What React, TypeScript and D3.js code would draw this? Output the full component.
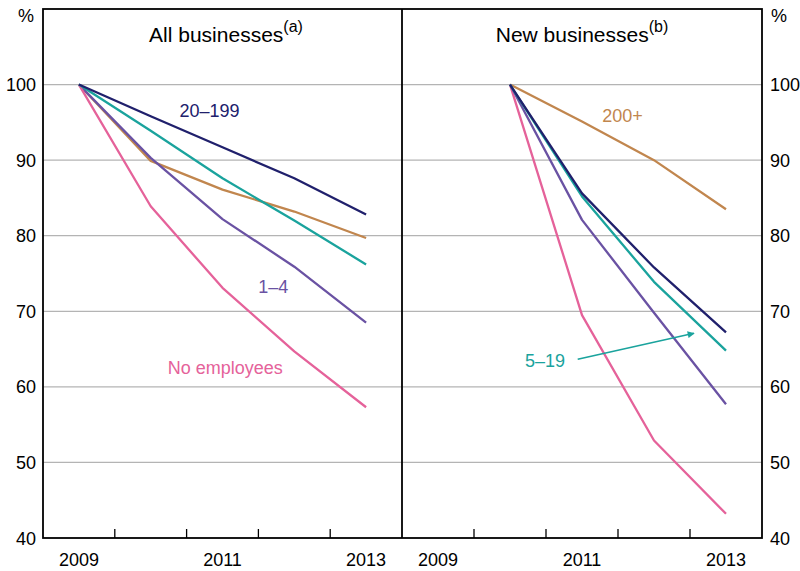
import React from "react";
import * as d3 from "d3";

const yearsAll = [2009, 2010, 2011, 2012, 2013];
const yearsNew = [2010, 2011, 2012, 2013];
const xTickLabels = [2009, 2011, 2013];
const yTicks = [40, 50, 60, 70, 80, 90, 100];
const gridValues = [50, 60, 70, 80, 90, 100];

const allNoEmployees = [100, 83.9, 73.1, 64.7, 57.3];
const all1to4 = [100, 90.3, 82.2, 75.9, 68.5];
const all5to19 = [100, 93.9, 87.6, 82.0, 76.2];
const all20to199 = [100, 95.8, 91.7, 87.6, 82.8];
const all200plus = [100, 89.9, 86.1, 83.2, 79.7];

const newNoEmployees = [100, 69.5, 52.9, 43.2];
const new1to4 = [100, 82.1, 69.8, 57.7];
const new5to19 = [100, 85.2, 73.9, 64.8];
const new20to199 = [100, 85.6, 75.8, 67.2];
const new200plus = [100, 95.1, 90.0, 83.5];

const C = {
  noEmp: "#e5629a",
  s1to4: "#6a52a3",
  s5to19: "#1aa39d",
  s20to199: "#20206c",
  s200: "#c1864e",
};

const FONT = "Arial, 'Liberation Sans', Helvetica, sans-serif";

export default function App() {
  const W = 800, H = 571;
  const left = 43, mid = 402, right = 762, top = 9, bottom = 538;
  const y = d3.scaleLinear().domain([40, 110]).range([bottom, top]);
  const xL = d3.scaleLinear().domain([2008.5, 2013.5]).range([left, mid]);
  const xR = d3.scaleLinear().domain([2008.5, 2013.5]).range([mid, right]);
  const tickPos = [2009.5, 2010.5, 2011.5, 2012.5];

  const mk = (xs: d3.ScaleLinear<number, number>, years: number[]) =>
    d3.line<number>().x((_, i) => xs(years[i])).y((v) => y(v));
  const lineL = mk(xL, yearsAll);
  const lineR = mk(xR, yearsNew);

  const leftSeries = [
    { v: all200plus, c: C.s200 },
    { v: all1to4, c: C.s1to4 },
    { v: allNoEmployees, c: C.noEmp },
    { v: all5to19, c: C.s5to19 },
    { v: all20to199, c: C.s20to199 },
  ];
  const rightSeries = [
    { v: new200plus, c: C.s200 },
    { v: newNoEmployees, c: C.noEmp },
    { v: new1to4, c: C.s1to4 },
    { v: new5to19, c: C.s5to19 },
    { v: new20to199, c: C.s20to199 },
  ];

  return (
    <svg width={W} height={H} style={{ position: "absolute", left: 0, top: 0, background: "#fff" }} fontFamily={FONT}>
      <defs>
        <marker id="arr" viewBox="0 0 10 10" refX="9" refY="5" markerWidth="8" markerHeight="7" orient="auto" markerUnits="userSpaceOnUse">
          <path d="M0,0 L10,5 L0,10 z" fill={C.s5to19} />
        </marker>
      </defs>
      {gridValues.map((g) => (
        <line key={g} x1={left} x2={right} y1={y(g)} y2={y(g)} stroke="#b4b4b4" strokeWidth={1.3} />
      ))}
      {leftSeries.map((s, i) => (
        <path key={"l" + i} d={lineL(s.v) || ""} fill="none" stroke={s.c} strokeWidth={2.3} strokeLinejoin="round" />
      ))}
      {rightSeries.map((s, i) => (
        <path key={"r" + i} d={lineR(s.v) || ""} fill="none" stroke={s.c} strokeWidth={2.3} strokeLinejoin="round" />
      ))}
      <rect x={left} y={top} width={right - left} height={bottom - top} fill="none" stroke="#000" strokeWidth={1.8} />
      <line x1={mid} x2={mid} y1={top} y2={bottom} stroke="#000" strokeWidth={1.8} />
      {tickPos.map((t) => (
        <g key={t}>
          <line x1={xL(t)} x2={xL(t)} y1={bottom} y2={bottom - 9} stroke="#000" strokeWidth={1.3} />
          <line x1={xR(t)} x2={xR(t)} y1={bottom} y2={bottom - 9} stroke="#000" strokeWidth={1.3} />
        </g>
      ))}
      {xTickLabels.map((yr) => (
        <g key={yr} fontSize={18} fill="#000" textAnchor="middle">
          <text x={xL(yr)} y={566}>{yr}</text>
          <text x={xR(yr)} y={566}>{yr}</text>
        </g>
      ))}
      {yTicks.map((t) => (
        <g key={t} fontSize={18} fill="#000">
          <text x={36} y={y(t) + 6.5} textAnchor="end">{t}</text>
          <text x={770} y={y(t) + 6.5} textAnchor="start">{t}</text>
        </g>
      ))}
      <text x={26} y={22} fontSize={18} textAnchor="middle">%</text>
      <text x={779} y={22} fontSize={18} textAnchor="middle">%</text>
      <text x={226} y={42} fontSize={21} textAnchor="middle">
        All businesses<tspan fontSize={16} dy={-10}>(a)</tspan>
      </text>
      <text x={582} y={42} fontSize={21} textAnchor="middle">
        New businesses<tspan fontSize={16} dy={-10}>(b)</tspan>
      </text>
      <g fontSize={18} textAnchor="middle">
        <text x={209.5} y={117} fill={C.s20to199}>20–199</text>
        <text x={273.3} y={293} fill={C.s1to4}>1–4</text>
        <text x={225.2} y={374} fill={C.noEmp}>No employees</text>
        <text x={622.5} y={121.5} fill={C.s200}>200+</text>
        <text x={545} y={367} fill={C.s5to19}>5–19</text>
      </g>
      <line x1={577.7} y1={359.3} x2={694} y2={333.3} stroke={C.s5to19} strokeWidth={1.5} markerEnd="url(#arr)" />
    </svg>
  );
}
